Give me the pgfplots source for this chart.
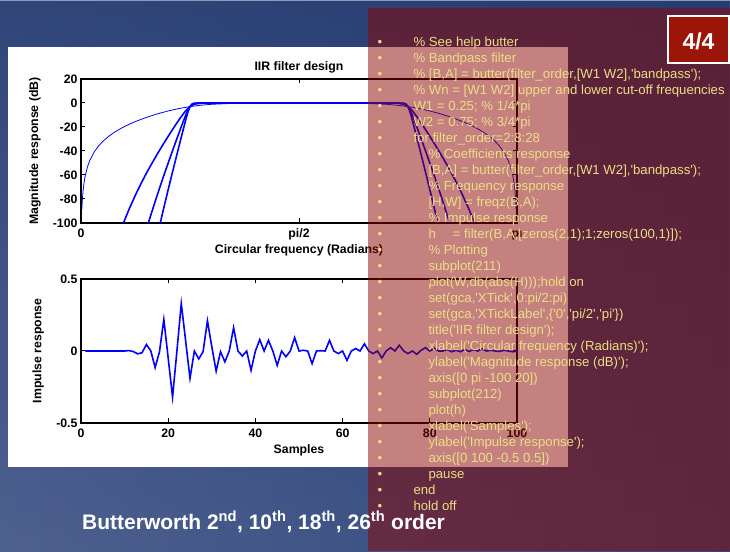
\documentclass[border=0pt]{standalone}
\usepackage{fontspec}
\setmainfont{Liberation Sans}
\newfontfamily\codefont{Liberation Sans}
\usepackage{pgfplots}
\pgfplotsset{compat=1.18}
\usetikzlibrary{fadings}

\definecolor{mblue}{RGB}{0,0,255}
\definecolor{codeyellow}{RGB}{236,222,132}
\definecolor{veil}{RGB}{140,5,0}
\definecolor{badge}{RGB}{155,22,8}
\definecolor{bgL}{RGB}{78,97,144}
\definecolor{bgR}{RGB}{50,72,125}
\definecolor{bgTop}{RGB}{30,52,105}
\definecolor{topline}{RGB}{140,155,185}

\pgfplotsset{
  mlab/.style={
    scale only axis, width=436pt, height=144pt,
    axis line style={line width=1.3pt},
    every tick/.style={black, line width=1pt},
    tick align=inside, major tick length=4.5pt,
    tick label style={font=\fontsize{12.3}{14}\selectfont\bfseries},
    label style={font=\fontsize{12.3}{14}\selectfont\bfseries},
    title style={font=\fontsize{12.3}{14}\selectfont\bfseries},
    xticklabel style={yshift=-2pt},
    clip=true,
  }
}

% one line of the MATLAB listing: index, indent (pt), text
\newcommand\codeline[3]{%
  \node[anchor=base, inner sep=0, text=codeyellow,
        font=\codefont\fontsize{13.2}{16}\selectfont]
        at (380pt,{504.6pt-16pt*#1}) {\textbullet};
  \node[anchor=base west, inner sep=0, text=codeyellow,
        font=\codefont\fontsize{13.2}{16}\selectfont]
        at (#2pt,{504.6pt-16pt*#1}) {#3};}

\begin{document}
\begin{tikzpicture}
\useasboundingbox (0,0) rectangle (730pt,551pt);

% slide background
\shade[left color=bgL, right color=bgR] (0,0) rectangle (730pt,551pt);
\fill[bgTop, opacity=0.6, path fading=south] (0,0) rectangle (730pt,551pt);
\fill[topline] (0,549.6pt) rectangle (730pt,551pt);
\fill[white] (8pt,84pt) rectangle (568pt,504pt);

% magnitude response
\begin{axis}[mlab, at={(81pt,328pt)}, anchor=south west,
  xmin=0, xmax=1, ymin=-100, ymax=20,
  xtick={0,0.5,1}, xticklabels={0,pi/2,pi},
  ytick={-100,-80,-60,-40,-20,0,20},
  yticklabels={-100,-80,-60,-40,-20,0,20},
  title={IIR filter design},
  title style={at={(axis description cs:0.5,1.04)}, anchor=center, yshift=0pt},
  xlabel={Circular frequency (Radians)},
  xlabel style={at={(axis description cs:0.5,-0.1875)}, anchor=center},
  ylabel={Magnitude response (dB)},
  ylabel style={at={(axis description cs:-0.1055,0.5)}, anchor=center},
]
% order 2
\addplot[mblue, line width=0.8pt] coordinates {
(0.001953,-88.48) (0.003,-81.03) (0.005,-72.15) (0.0075,-65.11) (0.01,-60.11)
(0.015,-53.06) (0.02,-48.05) (0.03,-40.98) (0.04,-35.94) (0.05,-32.01)
(0.0625,-28.06) (0.075,-24.80) (0.0875,-22.02) (0.1,-19.58) (0.1125,-17.40)
(0.125,-15.44) (0.15,-12.00) (0.175,-9.08) (0.2,-6.62) (0.225,-4.59)
(0.25,-3.01) (0.275,-1.85) (0.3,-1.07) (0.35,-0.28) (0.4,-0.05) (0.45,0)
(0.5,0) (0.55,0) (0.6,-0.05) (0.65,-0.28) (0.7,-1.07) (0.725,-1.85)
(0.75,-3.01) (0.775,-4.59) (0.8,-6.62) (0.825,-9.08) (0.85,-12.00)
(0.875,-15.44) (0.8875,-17.40) (0.9,-19.58) (0.9125,-22.02) (0.925,-24.80)
(0.9375,-28.06) (0.95,-32.01) (0.96,-35.94) (0.97,-40.98) (0.98,-48.05)
(0.985,-53.06) (0.99,-60.11) (0.9925,-65.11) (0.995,-72.15) (0.997,-81.03)
(0.998047,-88.48)};
% order 10
\addplot[mblue, line width=1.6pt] coordinates {
(0.09,-107.36) (0.1,-97.64) (0.11,-88.73) (0.125,-76.56) (0.14,-65.48)
(0.15,-58.57) (0.16,-51.97) (0.175,-42.54) (0.19,-33.53) (0.2,-27.75)
(0.21,-22.09) (0.22,-16.57) (0.23,-11.28) (0.24,-6.55) (0.245,-4.59)
(0.25,-3.01) (0.255,-1.86) (0.26,-1.09) (0.27,-0.34) (0.28,-0.10)
(0.3,-0.01) (0.5,0) (0.7,-0.01) (0.72,-0.10) (0.73,-0.34) (0.74,-1.09)
(0.745,-1.86) (0.75,-3.01) (0.755,-4.59) (0.76,-6.55) (0.77,-11.28)
(0.78,-16.57) (0.79,-22.09) (0.8,-27.75) (0.81,-33.53) (0.825,-42.54)
(0.84,-51.97) (0.85,-58.57) (0.86,-65.48) (0.875,-76.56) (0.89,-88.73)
(0.9,-97.64) (0.91,-107.36)};
% order 18
\addplot[mblue, line width=1.6pt] coordinates {
(0.15,-105.42) (0.16,-93.54) (0.175,-76.57) (0.19,-60.36) (0.2,-49.95)
(0.21,-39.72) (0.22,-29.65) (0.23,-19.75) (0.24,-10.26) (0.245,-6.13)
(0.25,-3.01) (0.255,-1.22) (0.26,-0.43) (0.27,-0.05) (0.28,0)
(0.5,0) (0.72,0) (0.73,-0.05) (0.74,-0.43) (0.745,-1.22) (0.75,-3.01)
(0.755,-6.13) (0.76,-10.26) (0.77,-19.75) (0.78,-29.65) (0.79,-39.72)
(0.8,-49.95) (0.81,-60.36) (0.825,-76.57) (0.84,-93.54) (0.85,-105.42)};
% order 26
\addplot[mblue, line width=1.6pt] coordinates {
(0.175,-110.59) (0.19,-87.18) (0.2,-72.15) (0.21,-57.37) (0.22,-42.82)
(0.23,-28.47) (0.24,-14.36) (0.245,-7.87) (0.25,-3.01) (0.255,-0.77)
(0.26,-0.16) (0.27,-0.01) (0.28,0) (0.5,0) (0.72,0) (0.73,-0.01)
(0.74,-0.16) (0.745,-0.77) (0.75,-3.01) (0.755,-7.87) (0.76,-14.36)
(0.77,-28.47) (0.78,-42.82) (0.79,-57.37) (0.8,-72.15) (0.81,-87.18)
(0.825,-110.59)};
\end{axis}

% impulse response
\begin{axis}[mlab, at={(81pt,128pt)}, anchor=south west,
  xmin=0, xmax=100, ymin=-0.5, ymax=0.5,
  xtick={0,20,40,60,80,100}, xticklabels={0,20,40,60,80,100},
  ytick={-0.5,0,0.5}, yticklabels={-0.5,0,0.5},
  xlabel={Samples},
  xlabel style={at={(axis description cs:0.5,-0.192)}, anchor=center},
  ylabel={Impulse response},
  ylabel style={at={(axis description cs:-0.098,0.5)}, anchor=center},
]
\addplot[mblue, line width=1.6pt] coordinates {
(1,0) (2,0) (3,0) (4,0) (5,0) (6,0) (7,0) (8,0) (9,0) (10,0)
(11,0.003) (12,-0.004) (13,-0.020) (14,-0.012) (15,0.045) (16,0.002)
(17,-0.115) (18,-0.005) (19,0.220) (20,-0.050) (21,-0.320) (22,0.000)
(23,0.330) (24,0.070) (25,-0.190) (26,0.000) (27,-0.055) (28,-0.005)
(29,0.210) (30,0.030) (31,-0.140) (32,-0.005) (33,-0.075) (34,0.000)
(35,0.162) (36,0.000) (37,-0.035) (38,0.000) (39,-0.134) (40,0.000)
(41,0.079) (42,0.000) (43,0.074) (44,0.000) (45,-0.100) (46,0.000)
(47,-0.040) (48,0.000) (49,0.093) (50,0.000) (51,0.005) (52,0.000)
(53,-0.088) (54,0.000) (55,0.002) (56,0.000) (57,0.074) (58,0.000)
(59,-0.018) (60,0.000) (61,-0.065) (62,0.000) (63,0.017) (64,0.000)
(65,0.050) (66,0.000) (67,-0.018) (68,0.000) (69,-0.048) (70,0.000)
(71,0.023) (72,0.000) (73,0.040) (74,0.000) (75,-0.018) (76,0.000)
(77,-0.023) (78,0.005) (79,0.023) (80,0.000) (81,0.020) (82,0.000)
(83,0.000) (84,0.010) (85,-0.005) (86,0.005) (87,-0.005) (88,0.010)
(89,-0.003) (90,0.010) (91,0.000) (92,0.015) (93,0.000) (94,0.005)
(95,0.000) (96,-0.003) (97,0.005) (98,0.000) (99,-0.005) (100,0.000)
(101,0.005) (102,0.000) (103,-0.003)};
\end{axis}

% translucent code panel
\fill[veil, opacity=0.5] (368pt,0pt) rectangle (730pt,543pt);

% slide number badge
\draw[white, line width=1.2pt, fill=badge] (668pt,488pt) rectangle (729pt,535pt);
\node[anchor=base, inner sep=0, text=white, font=\fontsize{23}{26}\selectfont\bfseries]
  at (698.5pt,501.2pt) {4/4};

% MATLAB listing
\codeline{0}{413.3}{\% See help butter}
\codeline{1}{413.3}{\% Bandpass filter}
\codeline{2}{413.3}{\% [B,A] = butter(filter\_order,[W1 W2],'bandpass');}
\codeline{3}{413.3}{\% Wn = [W1 W2] upper and lower cut-off frequencies}
\codeline{4}{413.3}{W1 = 0.25; \% 1/4*pi}
\codeline{5}{413.3}{W2 = 0.75; \% 3/4*pi}
\codeline{6}{413.3}{for filter\_order=2:8:28}
\codeline{7}{428.3}{\% Coefficients response}
\codeline{8}{428.3}{[B,A] = butter(filter\_order,[W1 W2],'bandpass');}
\codeline{9}{428.3}{\% Frequency response}
\codeline{10}{428.3}{[H,W] = freqz(B,A);}
\codeline{11}{428.3}{\% Impulse response}
\codeline{12}{428.3}{h\hspace*{17pt}= filter(B,A,[zeros(2,1);1;zeros(100,1)]);}
\codeline{13}{428.3}{\% Plotting}
\codeline{14}{428.3}{subplot(211)}
\codeline{15}{428.3}{plot(W,db(abs(H)));hold on}
\codeline{16}{428.3}{set(gca,'XTick',0:pi/2:pi)}
\codeline{17}{428.3}{set(gca,'XTickLabel',\{'0','pi/2','pi'\})}
\codeline{18}{428.3}{title('IIR filter design');}
\codeline{19}{428.3}{xlabel('Circular frequency (Radians)');}
\codeline{20}{428.3}{ylabel('Magnitude response (dB)');}
\codeline{21}{428.3}{axis([0 pi -100 20])}
\codeline{22}{428.3}{subplot(212)}
\codeline{23}{428.3}{plot(h)}
\codeline{24}{428.3}{xlabel('Samples');}
\codeline{25}{428.3}{ylabel('Impulse response');}
\codeline{26}{428.3}{axis([0 100 -0.5 0.5])}
\codeline{27}{428.3}{pause}
\codeline{28}{413.3}{end}
\codeline{29}{413.3}{hold off}

% slide caption
\node[anchor=base west, inner sep=0, text=white, font=\fontsize{21}{25}\selectfont\bfseries]
  at (82pt,22pt) {Butterworth 2\textsuperscript{nd}, 10\textsuperscript{th}, 18\textsuperscript{th}, 26\textsuperscript{th} order};
\end{tikzpicture}
\end{document}
